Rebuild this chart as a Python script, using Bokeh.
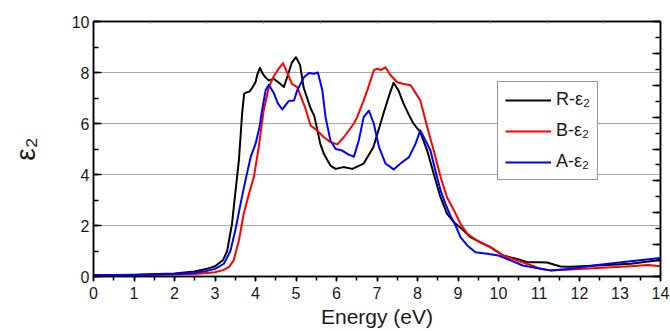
from bokeh.plotting import figure
from bokeh.models import Legend, LegendItem, LinearAxis, Range1d, FixedTicker, SingleIntervalTicker
from bokeh.embed import file_html
from bokeh.resources import INLINE

# ---- data ----
r_energy = [0, 1, 2, 2.5, 2.8, 3.0, 3.2, 3.3, 3.42, 3.5, 3.59, 3.67, 3.72, 3.78, 3.85, 3.92,
            4.0, 4.05, 4.11, 4.18, 4.25, 4.33, 4.45, 4.58, 4.7, 4.8, 4.9, 5.0, 5.1, 5.19, 5.36,
            5.45, 5.52, 5.6, 5.69, 5.85, 5.98, 6.17, 6.39, 6.67, 6.91, 7.16, 7.3, 7.41, 7.53,
            7.65, 7.8, 7.9, 8.07, 8.24, 8.4, 8.57, 8.73, 8.9, 9.14, 9.31, 9.6, 9.8, 10.12,
            10.46, 10.71, 11.0, 11.2, 11.53, 11.78, 12.44, 13.26, 14]
r_eps2 = [0.05, 0.07, 0.12, 0.2, 0.3, 0.4, 0.65, 1.0, 2.07, 3.25, 4.55, 6.4, 7.17, 7.22, 7.25, 7.4,
          7.62, 7.95, 8.18, 7.95, 7.8, 7.69, 7.75, 7.6, 7.43, 7.9, 8.4, 8.6, 8.3, 7.4, 6.6,
          6.3, 5.8, 5.2, 4.8, 4.35, 4.22, 4.29, 4.22, 4.43, 5.07, 6.39, 7.1, 7.6, 7.3,
          6.8, 6.3, 6.0, 5.66, 4.94, 4.03, 3.1, 2.46, 2.13, 1.8, 1.54, 1.3, 1.15, 0.82,
          0.69, 0.56, 0.56, 0.55, 0.39, 0.38, 0.43, 0.5, 0.65]

b_energy = [0, 1, 2, 2.5, 2.8, 3.0, 3.2, 3.35, 3.46, 3.59, 3.71, 3.84, 3.96, 4.08, 4.2, 4.33,
            4.45, 4.55, 4.68, 4.78, 4.9, 5.03, 5.23, 5.36, 5.52, 5.69, 5.85, 6.02, 6.18, 6.43,
            6.51, 6.67, 6.76, 6.92, 7.0, 7.1, 7.21, 7.33, 7.5, 7.66, 7.83, 7.95, 8.07, 8.24,
            8.4, 8.57, 8.73, 8.9, 9.06, 9.23, 9.47, 9.8, 10.12, 10.46, 10.79, 11.04, 11.28,
            11.78, 12.44, 13.26, 13.7, 14]
b_eps2 = [0.04, 0.05, 0.08, 0.1, 0.14, 0.17, 0.25, 0.38, 0.63, 1.41, 2.47, 3.25, 3.9, 5.07, 6.5, 7.43,
          7.85, 8.1, 8.37, 8.0, 7.55, 7.43, 6.6, 5.92, 5.73, 5.46, 5.27, 5.18, 5.46, 6.0,
          6.25, 6.9, 7.3, 8.08, 8.15, 8.1, 8.2, 7.9, 7.62, 7.55, 7.5, 7.2, 6.9, 5.86,
          4.94, 3.9, 3.1, 2.6, 2.07, 1.67, 1.41, 1.15, 0.82, 0.63, 0.45, 0.3, 0.24,
          0.27, 0.33, 0.4, 0.45, 0.4]

a_energy = [0, 1, 2, 2.5, 2.8, 3.0, 3.22, 3.38, 3.5, 3.63, 3.75, 3.88, 4.0, 4.1, 4.16, 4.25, 4.33,
            4.45, 4.55, 4.66, 4.82, 4.95, 5.03, 5.19, 5.32, 5.44, 5.54, 5.65, 5.73, 5.85, 5.98,
            6.14, 6.3, 6.43, 6.55, 6.67, 6.8, 6.92, 7.05, 7.21, 7.41, 7.58, 7.79, 7.95, 8.07,
            8.2, 8.32, 8.44, 8.57, 8.69, 8.81, 8.94, 9.06, 9.23, 9.43, 9.72, 10.0, 10.3, 10.6,
            11.04, 11.28, 11.78, 12.44, 13.26, 14]
a_eps2 = [0.05, 0.06, 0.1, 0.15, 0.22, 0.3, 0.5, 1.0, 1.8, 2.85, 3.76, 4.68, 5.2, 5.86, 6.5, 7.3, 7.52,
          7.2, 6.8, 6.55, 6.88, 6.9, 7.3, 7.8, 7.98, 7.95, 8.0, 7.3, 6.25, 5.33, 5.0,
          4.94, 4.78, 4.7, 5.33, 6.25, 6.5, 6.0, 5.07, 4.43, 4.2, 4.43, 4.68, 5.2, 5.73,
          5.33, 4.94, 4.16, 3.37, 2.85, 2.39, 2.0, 1.54, 1.22, 0.95, 0.89, 0.82, 0.63, 0.43,
          0.3, 0.24, 0.3, 0.45, 0.6, 0.73]

series_labels = ["R-ε₂", "B-ε₂", "A-ε₂"]
series_colors = ["#000000", "#ff0000", "#0000ff"]
grid_levels = [2, 4, 6, 8]

FONT = "Liberation Sans"

p = figure(width=670, height=331, x_range=Range1d(0, 14), y_range=Range1d(0, 10),
           output_backend="svg", toolbar_location=None,
           min_border_left=93, min_border_right=10, min_border_top=21, min_border_bottom=55)
p.background_fill_color = "white"
p.border_fill_color = "white"
p.outline_line_color = "black"
p.outline_line_width = 1.5

# grid
p.xgrid.visible = False
p.ygrid.ticker = FixedTicker(ticks=grid_levels)
p.ygrid.grid_line_color = "#a6a6a6"
p.ygrid.grid_line_width = 1

# bottom axis
xa = p.xaxis[0]
xa.ticker = SingleIntervalTicker(interval=1, num_minor_ticks=2)
xa.axis_label = "Energy (eV)"
xa.axis_label_text_font = FONT
xa.axis_label_text_font_size = "21px"
xa.axis_label_text_font_style = "normal"
xa.axis_label_text_color = "#1a1a1a"
xa.axis_label_standoff = 3
xa.major_label_text_font = FONT
xa.major_label_text_font_size = "16px"
xa.major_label_text_color = "#1a1a1a"
xa.major_label_standoff = 5
xa.major_tick_in = 0
xa.major_tick_out = 5
xa.minor_tick_in = 0
xa.minor_tick_out = 4
xa.axis_line_width = 1.5
xa.major_tick_line_width = 1.5
xa.minor_tick_line_width = 1.5

# left axis
ya = p.yaxis[0]
ya.ticker = SingleIntervalTicker(interval=2, num_minor_ticks=2)
ya.axis_label = "ε₂"
ya.axis_label_text_font = FONT
ya.axis_label_text_font_size = "28px"
ya.axis_label_text_font_style = "normal"
ya.axis_label_text_color = "#1a1a1a"
ya.axis_label_standoff = 28
ya.major_label_text_font = FONT
ya.major_label_text_font_size = "16px"
ya.major_label_text_color = "#1a1a1a"
ya.major_label_standoff = 4
ya.major_tick_in = 8
ya.major_tick_out = 0
ya.minor_tick_in = 5
ya.minor_tick_out = 0
ya.axis_line_width = 1.5
ya.major_tick_line_width = 1.5
ya.minor_tick_line_width = 1.5

# right axis (secondary scale, ticks only)
p.extra_y_ranges = {"right": Range1d(0, 8)}
ra = LinearAxis(y_range_name="right", ticker=SingleIntervalTicker(interval=1, num_minor_ticks=2),
                major_label_text_font_size="0px", major_label_text_color=None,
                major_tick_in=8, major_tick_out=0, minor_tick_in=5, minor_tick_out=0,
                axis_line_width=1.5, major_tick_line_width=1.5, minor_tick_line_width=1.5)
p.add_layout(ra, "right")

# top axis (ticks only)
p.extra_x_ranges = {"top": Range1d(0, 14)}
ta = LinearAxis(x_range_name="top", ticker=SingleIntervalTicker(interval=1.4, num_minor_ticks=0),
                major_label_text_font_size="0px", major_label_text_color=None,
                major_tick_in=2, major_tick_out=0, minor_tick_in=0, minor_tick_out=0,
                axis_line_width=1.5, major_tick_line_color="#888888")
p.add_layout(ta, "above")

# curves
renderers = []
for xs, ys, c in [(r_energy, r_eps2, series_colors[0]),
                  (b_energy, b_eps2, series_colors[1]),
                  (a_energy, a_eps2, series_colors[2])]:
    renderers.append(p.line(xs, ys, line_color=c, line_width=2, line_join="round"))

legend = Legend(items=[LegendItem(label=lab, renderers=[r]) for lab, r in zip(series_labels, renderers)],
                location=(404, 96))
legend.label_text_font = FONT
legend.label_text_font_size = "18px"
legend.label_text_color = "#1a1a1a"
legend.glyph_width = 46
legend.glyph_height = 20
legend.label_height = 20
legend.spacing = 10
legend.padding = 7
legend.margin = 0
legend.label_standoff = 5
legend.border_line_color = "#333333"
legend.border_line_width = 1.2
legend.background_fill_color = "white"
legend.background_fill_alpha = 1
p.add_layout(legend, "center")

open("out.html", "w").write(file_html(p, INLINE))
